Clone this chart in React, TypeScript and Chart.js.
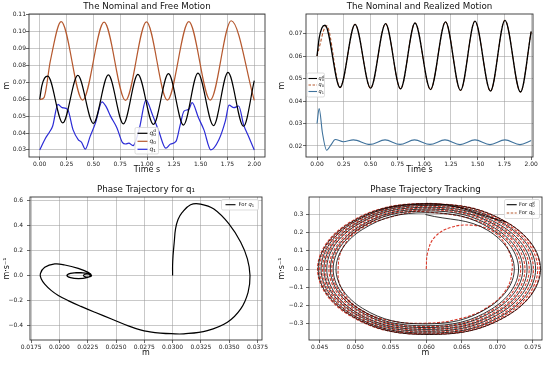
import React, { useEffect, useRef } from "react";
import { Chart, registerables } from "chart.js";

Chart.register(...registerables);

const FONT = "'DejaVu Sans', 'Liberation Sans', sans-serif";

// ---------------- tick values ----------------
const TIME_TICKS = [0, 0.25, 0.5, 0.75, 1.0, 1.25, 1.5, 1.75, 2.0];
const FREE_Y_TICKS = [0.03, 0.04, 0.05, 0.06, 0.07, 0.08, 0.09, 0.1, 0.11];
const REAL_Y_TICKS = [0.02, 0.03, 0.04, 0.05, 0.06, 0.07];
const PHASE1_X_TICKS = [0.0175, 0.02, 0.0225, 0.025, 0.0275, 0.03, 0.0325, 0.035, 0.0375];
const PHASE1_Y_TICKS = [-0.4, -0.2, 0, 0.2, 0.4, 0.6];
const TRACK_X_TICKS = [0.045, 0.05, 0.055, 0.06, 0.065, 0.07, 0.075];
const TRACK_Y_TICKS = [-0.3, -0.2, -0.1, 0, 0.1, 0.2, 0.3];

// ---------------- nominal q0^d (time, value) ----------------
const QD_T = [0.0, 0.02, 0.045, 0.075, 0.215, 0.355, 0.5, 0.64, 0.78, 0.915, 1.06, 1.2, 1.34, 1.475, 1.62, 1.755, 1.9, 2.0];
const QD_V = [0.06, 0.068, 0.0725, 0.0737, 0.046, 0.0741, 0.0457, 0.0744, 0.0454, 0.0747, 0.0451, 0.0752, 0.0447, 0.0755, 0.0444, 0.0759, 0.044, 0.071];

// ---------------- free motion q0, q1 ----------------
const Q0_FREE_T = [0.0, 0.04, 0.1, 0.2, 0.4, 0.6, 0.8, 0.995, 1.19, 1.39, 1.59, 1.785, 2.0];
const Q0_FREE_V = [0.0598, 0.061, 0.083, 0.106, 0.0595, 0.1057, 0.0593, 0.1058, 0.0595, 0.106, 0.0595, 0.1065, 0.0593];

const Q1_FREE_T = [0.0, 0.05, 0.09, 0.12, 0.17, 0.21, 0.26, 0.31, 0.36, 0.39, 0.425, 0.47, 0.52, 0.58, 0.62, 0.66, 0.72, 0.77, 0.8, 0.83, 0.87, 0.93, 0.99, 1.05, 1.11, 1.175, 1.22, 1.27, 1.31, 1.345, 1.39, 1.42, 1.48, 1.53, 1.595, 1.67, 1.73, 1.765, 1.81, 1.855, 1.9, 1.95, 2.0];
const Q1_FREE_V = [0.03, 0.0365, 0.0405, 0.044, 0.057, 0.055, 0.054, 0.042, 0.036, 0.0345, 0.0305, 0.038, 0.046, 0.0585, 0.0555, 0.05, 0.043, 0.0345, 0.0335, 0.034, 0.0325, 0.043, 0.0595, 0.051, 0.041, 0.031, 0.0335, 0.035, 0.045, 0.053, 0.054, 0.058, 0.049, 0.042, 0.03, 0.036, 0.047, 0.0565, 0.055, 0.056, 0.045, 0.0375, 0.03];

// ---------------- realized motion q0, q1 ----------------
const Q0_T = [0.0, 0.03, 0.06, 0.09, 0.215, 0.355, 0.5, 0.64, 0.78, 0.915, 1.06, 1.2, 1.34, 1.475, 1.62, 1.755, 1.9, 2.0];
const Q0_V = [0.06, 0.0655, 0.0712, 0.0735, 0.046, 0.0741, 0.0457, 0.0744, 0.0454, 0.0747, 0.0451, 0.0752, 0.0447, 0.0755, 0.0444, 0.0759, 0.044, 0.071];

const Q1_T = [0.0, 0.02, 0.05, 0.09, 0.13, 0.17, 0.245, 0.34, 0.495, 0.635, 0.775, 0.91, 1.055, 1.195, 1.335, 1.475, 1.615, 1.755, 1.895, 2.0];
const Q1_V = [0.03, 0.0367, 0.026, 0.0181, 0.0205, 0.0229, 0.0219, 0.0227, 0.0207, 0.0227, 0.0207, 0.0227, 0.0207, 0.0227, 0.0206, 0.0227, 0.0206, 0.0227, 0.0206, 0.0224];

// ---------------- phase trajectory q1 (position, velocity) ----------------
const PH1_X = [
  0.03, 0.03, 0.03004, 0.03015, 0.03026, 0.03048, 0.03085, 0.03159, 0.03247, 0.03365, 0.03498, 0.03602, 0.03661, 0.03684,
  0.03667, 0.03602, 0.03484, 0.03307, 0.03099, 0.0299, 0.02893, 0.028, 0.02715, 0.02609, 0.0246, 0.02314, 0.0219, 0.02077, 0.0199,
  0.01929, 0.0187, 0.0184, 0.01831, 0.0187, 0.01959, 0.02048, 0.02166, 0.02254, 0.02284,
  0.02262, 0.02228, 0.02212, 0.02228, 0.02258,
  0.02274, 0.02242, 0.0217, 0.02098, 0.02068, 0.02098, 0.0217, 0.02242,
  0.02273, 0.02241, 0.02169, 0.02097, 0.02067, 0.02097, 0.02169, 0.02241,
  0.02274, 0.02242, 0.0217, 0.02098, 0.02068, 0.02098, 0.0217, 0.02242,
  0.02273, 0.02241, 0.02169, 0.02097, 0.02066, 0.02097, 0.02169, 0.02241,
  0.02274, 0.02242, 0.0217, 0.02098, 0.02068, 0.02098, 0.0217, 0.02242,
  0.02273, 0.02241, 0.02169, 0.02097, 0.02067, 0.02097, 0.02169, 0.02241,
];
const PH1_Y = [
  0.0, 0.08, 0.158, 0.27, 0.37, 0.445, 0.502, 0.563, 0.568, 0.528, 0.41, 0.264, 0.132, 0.0,
  -0.133, -0.265, -0.371, -0.437, -0.463, -0.462, -0.457, -0.447, -0.432, -0.4, -0.345, -0.292, -0.245, -0.199, -0.158,
  -0.12, -0.068, -0.027, 0.013, 0.065, 0.092, 0.084, 0.057, 0.025, 0.0,
  -0.011, -0.01, 0.0, 0.01, 0.011,
  0.0, -0.017, -0.024, -0.017, 0.0, 0.017, 0.024, 0.017,
  0.0, -0.017, -0.024, -0.017, 0.0, 0.017, 0.024, 0.017,
  0.0, -0.017, -0.024, -0.017, 0.0, 0.017, 0.024, 0.017,
  0.0, -0.017, -0.024, -0.017, 0.0, 0.017, 0.024, 0.017,
  0.0, -0.017, -0.024, -0.017, 0.0, 0.017, 0.024, 0.017,
  0.0, -0.017, -0.024, -0.017, 0.0, 0.017, 0.024, 0.017,
];

// ---------------- phase tracking: q0^d and q0 (position, velocity) ----------------
const PHD_X = [
  0.0599, 0.0687, 0.0724, 0.0687, 0.0599, 0.051, 0.0473, 0.051,
  0.06, 0.0692, 0.073, 0.0692, 0.06, 0.0507, 0.0469, 0.0507,
  0.06, 0.0696, 0.0736, 0.0696, 0.06, 0.0505, 0.0465, 0.0505,
  0.0601, 0.0701, 0.0742, 0.0701, 0.0601, 0.0501, 0.046, 0.0501,
  0.0602, 0.0705, 0.0748, 0.0705, 0.0602, 0.0499, 0.0456, 0.0499,
  0.0603, 0.071, 0.0754, 0.071, 0.0603, 0.0496, 0.0452, 0.0496,
  0.0604, 0.0715, 0.0761, 0.0715, 0.0604, 0.0494, 0.0448, 0.0494,
  0.0604, 0.0712,
];
const PHD_Y = [
  0.298, 0.211, 0.0, -0.212, -0.3, -0.214, 0.0, 0.216,
  0.308, 0.218, 0.0, -0.219, -0.31, -0.221, 0.0, 0.223,
  0.318, 0.225, 0.0, -0.226, -0.32, -0.228, 0.0, 0.23,
  0.328, 0.232, 0.0, -0.233, -0.33, -0.235, 0.0, 0.237,
  0.338, 0.239, 0.0, -0.24, -0.34, -0.242, 0.0, 0.244,
  0.348, 0.246, 0.0, -0.247, -0.35, -0.249, 0.0, 0.251,
  0.355, 0.252, 0.0, -0.253, -0.358, -0.254, 0.0, 0.255,
  0.358, 0.258,
];
const PH0_X = [
  0.06, 0.0602, 0.0612, 0.0635, 0.0663, 0.0688, 0.0707, 0.0718, 0.0721, 0.0713, 0.0686, 0.0647, 0.0598, 0.0547, 0.0505, 0.0481, 0.0476, 0.0483, 0.0507, 0.0548,
  0.06, 0.0694, 0.0733, 0.0694, 0.06, 0.0506, 0.0467, 0.0506,
  0.0601, 0.0699, 0.0739, 0.0699, 0.0601, 0.0503, 0.0463, 0.0503,
  0.06015, 0.0703, 0.0745, 0.0703, 0.06015, 0.05, 0.0458, 0.05,
  0.06025, 0.0708, 0.0751, 0.0708, 0.06025, 0.0498, 0.0454, 0.0498,
  0.06035, 0.0712, 0.0757, 0.0712, 0.06035, 0.0495, 0.045, 0.0495,
  0.0604, 0.0714, 0.076, 0.0714, 0.0604, 0.0493, 0.0447, 0.0493,
  0.0604, 0.0712,
];
const PH0_Y = [
  0.0, 0.09, 0.175, 0.228, 0.24, 0.218, 0.16, 0.08, 0.0, -0.11, -0.21, -0.272, -0.296, -0.28, -0.215, -0.11, 0.0, 0.12, 0.218, 0.282,
  0.313, 0.221, 0.0, -0.223, -0.315, -0.223, 0.0, 0.225,
  0.323, 0.228, 0.0, -0.23, -0.325, -0.23, 0.0, 0.232,
  0.333, 0.235, 0.0, -0.237, -0.335, -0.237, 0.0, 0.239,
  0.343, 0.243, 0.0, -0.244, -0.345, -0.246, 0.0, 0.248,
  0.352, 0.249, 0.0, -0.25, -0.354, -0.252, 0.0, 0.253,
  0.356, 0.254, 0.0, -0.255, -0.357, -0.256, 0.0, 0.257,
  0.359, 0.259,
];

// ---------------- colours ----------------
const C_BLACK = "#000000";
const C_Q0 = "#b5582e";
const C_Q0_TRACK = "#dc3b2c";
const C_Q1_FREE = "#2b2bd6";
const C_Q1 = "#3f729c";

// ---------------- helpers ----------------
function fmt(v: number, d: number) {
  const s = Math.abs(v).toFixed(d);
  return (v < -1e-12 ? "\u2212" : "") + s;
}

function series(xs: number[], ys: number[], color: string, width: number, extra: any = {}) {
  return {
    data: xs.map((x, i) => ({ x, y: ys[i] })),
    showLine: true,
    borderColor: color,
    backgroundColor: color,
    borderWidth: width,
    pointRadius: 0,
    fill: false,
    ...extra,
  };
}

const framePlugin = {
  id: "frame",
  afterDatasetsDraw(chart: any) {
    const { ctx, chartArea: a } = chart;
    ctx.save();
    ctx.strokeStyle = "#333";
    ctx.lineWidth = 0.9;
    ctx.strokeRect(a.left, a.top, a.right - a.left, a.bottom - a.top);
    ctx.restore();
  },
};

function drawLabel(ctx: any, x: number, y: number, lab: any, size: number) {
  let cx = x;
  ctx.fillStyle = "#111";
  ctx.textBaseline = "middle";
  ctx.textAlign = "left";
  if (lab.pre) {
    ctx.font = `${size}px ${FONT}`;
    ctx.fillText(lab.pre, cx, y);
    cx += ctx.measureText(lab.pre).width;
  }
  ctx.font = `italic ${size}px ${FONT}`;
  ctx.fillText(lab.base, cx, y);
  cx += ctx.measureText(lab.base).width;
  const s2 = size * 0.7;
  ctx.font = `${s2}px ${FONT}`;
  if (lab.sub) ctx.fillText(lab.sub, cx, y + size * 0.28);
  if (lab.sup) ctx.fillText(lab.sup, cx, y - size * 0.38);
}

const legendPlugin = {
  id: "mlegend",
  afterDraw(chart: any, _args: any, o: any) {
    if (!o || !o.rows) return;
    const ctx = chart.ctx;
    ctx.save();
    ctx.fillStyle = "rgba(255,255,255,0.85)";
    ctx.strokeStyle = "#d4d4d4";
    ctx.lineWidth = 0.8;
    const r = 1.5;
    const { x, y, w, h } = o;
    ctx.beginPath();
    ctx.moveTo(x + r, y);
    ctx.lineTo(x + w - r, y);
    ctx.quadraticCurveTo(x + w, y, x + w, y + r);
    ctx.lineTo(x + w, y + h - r);
    ctx.quadraticCurveTo(x + w, y + h, x + w - r, y + h);
    ctx.lineTo(x + r, y + h);
    ctx.quadraticCurveTo(x, y + h, x, y + h - r);
    ctx.lineTo(x, y + r);
    ctx.quadraticCurveTo(x, y, x + r, y);
    ctx.closePath();
    ctx.fill();
    ctx.stroke();
    for (const row of o.rows) {
      ctx.save();
      ctx.strokeStyle = row.color;
      ctx.lineWidth = row.lw;
      ctx.setLineDash(row.dash ? [2.5, 1.5] : []);
      ctx.beginPath();
      ctx.moveTo(o.lx0, row.y);
      ctx.lineTo(o.lx1, row.y);
      ctx.stroke();
      ctx.restore();
      drawLabel(ctx, o.tx, row.y, row.label, o.size);
    }
    ctx.restore();
  },
};

function makeConfig(p: any) {
  const grid = {
    color: "rgba(150,150,150,0.65)",
    lineWidth: 0.8,
    tickLength: 3,
    tickColor: "#444",
    drawTicks: true,
  };
  const tickFont = { family: FONT, size: 6 };
  return {
    type: "scatter",
    data: { datasets: p.datasets },
    options: {
      responsive: false,
      animation: false,
      devicePixelRatio: 1,
      events: [],
      layout: { padding: { left: 0, top: 0, bottom: 0, right: p.rightPad } },
      plugins: {
        legend: { display: false },
        tooltip: { enabled: false },
        title: {
          display: true,
          text: p.title,
          fullSize: false,
          color: "#111",
          font: { family: FONT, size: 8.7, weight: "normal", lineHeight: 1.2 },
          padding: { top: 2, bottom: 1.56 },
        },
        mlegend: p.legend,
      },
      scales: {
        x: {
          type: "linear",
          min: p.xMin,
          max: p.xMax,
          afterBuildTicks: (s: any) => {
            s.ticks = p.xTicks.map((v: number) => ({ value: v }));
          },
          afterFit: (s: any) => {
            s.height = 26;
          },
          ticks: {
            callback: (v: any) => fmt(Number(v), p.xDec),
            font: tickFont,
            color: "#222",
            padding: 1,
            autoSkip: false,
            maxRotation: 0,
            minRotation: 0,
          },
          grid,
          border: { display: false },
          title: {
            display: true,
            text: p.xLabel,
            color: "#111",
            font: { family: FONT, size: 8, lineHeight: 1.2 },
            padding: { top: 0, bottom: 8 },
          },
        },
        y: {
          type: "linear",
          min: p.yMin,
          max: p.yMax,
          afterBuildTicks: (s: any) => {
            s.ticks = p.yTicks.map((v: number) => ({ value: v }));
          },
          afterFit: (s: any) => {
            s.width = p.yW;
          },
          ticks: {
            callback: (v: any) => fmt(Number(v), p.yDec),
            font: tickFont,
            color: "#222",
            padding: p.yPad,
            autoSkip: false,
          },
          grid,
          border: { display: false },
          title: {
            display: true,
            text: p.yLabel,
            color: "#111",
            font: { family: FONT, size: 8, lineHeight: 1.2 },
            padding: { top: 2.5, bottom: 0 },
          },
        },
      },
    },
    plugins: [framePlugin, legendPlugin],
  };
}

const MONO = { cubicInterpolationMode: "monotone" };
const SMOOTH = { tension: 0.4 };

const LAB_QD = { base: "q", sub: "0", sup: "d" };
const LAB_Q0 = { base: "q", sub: "0" };
const LAB_Q1 = { base: "q", sub: "1" };

function configFree() {
  return makeConfig({
    title: "The Nominal and Free Motion",
    xLabel: "Time s",
    yLabel: "m",
    xMin: -0.1,
    xMax: 2.1,
    yMin: 0.0258,
    yMax: 0.1105,
    xTicks: TIME_TICKS,
    yTicks: FREE_Y_TICKS,
    xDec: 2,
    yDec: 2,
    yW: 29,
    yPad: 0,
    rightPad: 10,
    datasets: [
      series(QD_T, QD_V, C_BLACK, 1.2, MONO),
      series(Q0_FREE_T, Q0_FREE_V, C_Q0, 1.2, MONO),
      series(Q1_FREE_T, Q1_FREE_V, C_Q1_FREE, 1.2, MONO),
    ],
    legend: {
      x: 135,
      y: 127.5,
      w: 23.5,
      h: 26.5,
      lx0: 137.5,
      lx1: 147.5,
      tx: 149.5,
      size: 6,
      rows: [
        { y: 133.3, color: C_BLACK, lw: 1.2, dash: false, label: LAB_QD },
        { y: 141.3, color: C_Q0, lw: 1.2, dash: false, label: LAB_Q0 },
        { y: 149.3, color: C_Q1_FREE, lw: 1.2, dash: false, label: LAB_Q1 },
      ],
    },
  });
}

function configReal() {
  return makeConfig({
    title: "The Nominal and Realized Motion",
    xLabel: "Time s",
    yLabel: "m",
    xMin: -0.103,
    xMax: 2.017,
    yMin: 0.0151,
    yMax: 0.0787,
    xTicks: TIME_TICKS,
    yTicks: REAL_Y_TICKS,
    xDec: 2,
    yDec: 2,
    yW: 31,
    yPad: 0.7,
    rightPad: 17,
    datasets: [
      series(QD_T, QD_V, C_BLACK, 1.3, MONO),
      series(Q0_T, Q0_V, C_Q0, 1.1, { ...MONO, borderDash: [3, 2] }),
      series(Q1_T, Q1_V, C_Q1, 1.1, MONO),
    ],
    legend: {
      x: 32,
      y: 73,
      w: 17.5,
      h: 24,
      lx0: 33.5,
      lx1: 42,
      tx: 43.5,
      size: 5,
      rows: [
        { y: 78.5, color: C_BLACK, lw: 1.1, dash: false, label: LAB_QD },
        { y: 85, color: C_Q0, lw: 1, dash: true, label: LAB_Q0 },
        { y: 91.5, color: C_Q1, lw: 1.1, dash: false, label: LAB_Q1 },
      ],
    },
  });
}

function configPhase1() {
  return makeConfig({
    title: "Phase Trajectory for q\u2081",
    xLabel: "m",
    yLabel: "m\u00b7s\u207b\u00b9",
    xMin: 0.0174,
    xMax: 0.0379,
    yMin: -0.512,
    yMax: 0.624,
    xTicks: PHASE1_X_TICKS,
    yTicks: PHASE1_Y_TICKS,
    xDec: 4,
    yDec: 1,
    yW: 30,
    yPad: 4,
    rightPad: 13,
    datasets: [series(PH1_X, PH1_Y, C_BLACK, 1.2, SMOOTH)],
    legend: {
      x: 221.5,
      y: 16.5,
      w: 37,
      h: 10.5,
      lx0: 225.5,
      lx1: 235.5,
      tx: 238.5,
      size: 5.3,
      rows: [{ y: 21.7, color: C_BLACK, lw: 1.1, dash: false, label: { pre: "For ", ...LAB_Q1 } }],
    },
  });
}

function configTrack() {
  return makeConfig({
    title: "Phase Trajectory Tracking",
    xLabel: "m",
    yLabel: "m\u00b7s\u207b\u00b9",
    xMin: 0.0435,
    xMax: 0.0763,
    yMin: -0.388,
    yMax: 0.394,
    xTicks: TRACK_X_TICKS,
    yTicks: TRACK_Y_TICKS,
    xDec: 3,
    yDec: 1,
    yW: 34,
    yPad: 2.7,
    rightPad: 8,
    datasets: [
      series(PHD_X, PHD_Y, C_BLACK, 0.8, SMOOTH),
      series(PH0_X, PH0_Y, C_Q0_TRACK, 1.1, { ...SMOOTH, borderDash: [3, 1.5] }),
    ],
    legend: {
      x: 229.5,
      y: 16.5,
      w: 35,
      h: 19,
      lx0: 231.7,
      lx1: 241.7,
      tx: 244,
      size: 5.3,
      rows: [
        { y: 21.7, color: C_BLACK, lw: 1.1, dash: false, label: { pre: "For ", ...LAB_QD } },
        { y: 30, color: C_Q0, lw: 1, dash: true, label: { pre: "For ", ...LAB_Q0 } },
      ],
    },
  });
}

function Panel({ left, top, make }: { left: number; top: number; make: () => any }) {
  const ref = useRef<HTMLCanvasElement | null>(null);
  useEffect(() => {
    const chart = new Chart(ref.current as HTMLCanvasElement, make());
    return () => chart.destroy();
  }, []);
  return (
    <canvas
      ref={ref}
      width={275}
      height={183}
      style={{ position: "absolute", left, top, width: 275, height: 183, display: "block" }}
    />
  );
}

export default function App() {
  return (
    <div style={{ position: "absolute", left: 0, top: 0, width: 550, height: 366, background: "#fff", overflow: "hidden" }}>
      <Panel left={0} top={0} make={configFree} />
      <Panel left={275} top={0} make={configReal} />
      <Panel left={0} top={183} make={configPhase1} />
      <Panel left={275} top={183} make={configTrack} />
    </div>
  );
}
